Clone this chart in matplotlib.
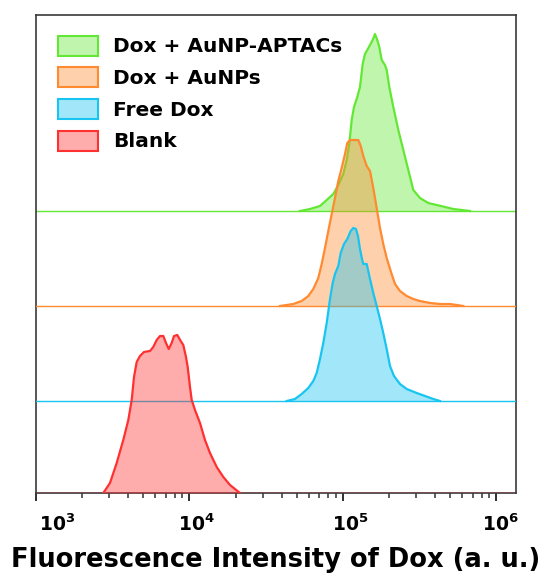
import matplotlib
matplotlib.use('Agg')
import matplotlib.pyplot as plt
from matplotlib.patches import Patch
from matplotlib.colors import to_rgba
from matplotlib.ticker import FixedLocator, FixedFormatter, LogLocator, NullFormatter
from matplotlib.transforms import ScaledTranslation

plt.rcParams['font.family'] = ['DejaVu Sans']
plt.rcParams['font.weight'] = 'bold'
plt.rcParams['mathtext.fontset'] = 'dejavusans'

# flow cytometry histograms (intensity, cell count)
labels = ['Dox + AuNP-APTACs', 'Dox + AuNPs', 'Free Dox', 'Blank']

aptac_x = [52480, 60950, 70830, 78320, 86480, 93200, 100460, 105700, 109900, 113940,
           117950, 123950, 129040, 134380, 139100, 143990, 149940, 156130, 161600, 167300,
           172400, 178700, 187700, 192600, 200300, 212700, 229300, 247100, 266400, 287100,
           317400, 359500, 407800, 461800, 523000, 593300, 672000]
aptac_y = [0, 2, 5, 11, 17, 26, 37, 51, 67, 91,
           104, 114, 124, 147, 157, 161, 166, 171, 177, 171,
           164, 151, 146, 141, 124, 104, 81, 61, 41, 21,
           13, 8, 6, 4, 2, 1, 0]

aunp_x = [38870, 47450, 53810, 59410, 64050, 69050, 72640, 76330, 80220, 84420,
          88700, 93200, 98060, 103040, 106660, 111060, 125840, 130460, 135600, 142700,
          149940, 157540, 165760, 174200, 183000, 192600, 204500, 218200, 235100, 260000,
          287100, 317400, 368800, 428500, 497800, 607600]
aunp_y = [0, 2, 5, 10, 17, 28, 42, 58, 75, 92,
          108, 125, 138, 152, 163, 166, 166, 160, 150, 140,
          135, 118, 98, 78, 62, 48, 35, 22, 15, 10,
          7, 5, 3, 2, 2, 0]

free_x = [42970, 48680, 53810, 59410, 64050, 67410, 70830, 74400, 78320, 82300,
          85700, 88700, 93200, 96600, 101500, 106660, 112260, 116700, 121500, 125200,
          129040, 132980, 135600, 142700, 149940, 157540, 165760, 174200, 183000, 192600,
          202400, 214900, 235100, 260000, 302000, 342100, 387500, 428500]
free_y = [0, 2, 7, 13, 20, 28, 42, 58, 78, 102,
          118, 127, 135, 148, 157, 162, 170, 173, 172, 165,
          152, 142, 137, 137, 122, 108, 95, 82, 68, 52,
          35, 25, 17, 12, 8, 5, 2, 0]

blank_x = [2744, 3034, 3355, 3704, 3994, 4203, 4350, 4529, 4759, 5052,
           5529, 5810, 6113, 6424, 6750, 7030, 7320, 7656, 7925, 8326,
           8763, 9112, 9489, 9734, 10076, 10335, 10860, 11706, 12618, 13600,
           15042, 16610, 18360, 21330]
blank_y = [0, 10, 30, 53, 73, 93, 116, 131, 137, 141,
           142, 146, 153, 157, 157, 150, 144, 150, 157, 158,
           152, 148, 136, 126, 106, 93, 83, 70, 53, 40,
           26, 16, 8, 0]

tick_values = [1e3, 1e4, 1e5, 1e6]
tick_labels = [r'$\mathbf{10^{3}}$', r'$\mathbf{10^{4}}$',
               r'$\mathbf{10^{5}}$', r'$\mathbf{10^{6}}$']

series = [(aptac_x, aptac_y), (aunp_x, aunp_y), (free_x, free_y), (blank_x, blank_y)]
colors = ['#62e834', '#ff8a30', '#18c4f0', '#ff3030']
offsets = [282, 187, 92, 0]

fig = plt.figure(figsize=(5.46, 5.81), dpi=100)
ax = fig.add_axes([36 / 546, 88 / 581, 480 / 546, 478 / 581])

for i, ((x, y), c, off) in enumerate(zip(series, colors, offsets)):
    z = 2 + i
    top = [off + v for v in y]
    ax.axhline(off, color=c, lw=1.0, zorder=z)
    ax.fill_between(x, off, top, color=c, alpha=0.4, lw=0, zorder=z)
    ax.plot(x, top, color=c, lw=1.6, zorder=z)

ax.set_xscale('log')
ax.set_xlim(1e3, 1.34e6)
ax.set_ylim(0, 478)
ax.set_yticks([])

ax.xaxis.set_major_locator(FixedLocator(tick_values))
ax.xaxis.set_major_formatter(FixedFormatter(tick_labels))
ax.xaxis.set_minor_locator(LogLocator(base=10, subs=range(2, 10)))
ax.xaxis.set_minor_formatter(NullFormatter())
ax.tick_params(axis='x', which='major', direction='out', length=5.5, width=1.4,
               color='#303030', pad=9, labelsize=13.5)
ax.tick_params(axis='x', which='minor', direction='out', length=3.6, width=1.1,
               color='#303030')
for sp in ax.spines.values():
    sp.set_color('#3a3a3a')
    sp.set_linewidth(1.2)

# nudge the decade labels to the right
shifts = [21, 7, 7, 4]
for lab, dx in zip(ax.get_xticklabels(), shifts):
    lab.set_transform(lab.get_transform() + ScaledTranslation(dx / 100, 0, fig.dpi_scale_trans))

ax.set_xlabel('Fluorescence Intensity of Dox (a. u.)', fontsize=18.5, fontweight='bold',
              labelpad=9)

handles = [Patch(facecolor=to_rgba(c, 0.4), edgecolor=c, linewidth=1.5) for c in colors]
ax.legend(handles, labels, loc='upper left', bbox_to_anchor=(0.046, 0.957),
          frameon=False, prop={'size': 14.5, 'weight': 'bold'},
          handlelength=2.0, handleheight=1.15, handletextpad=0.75,
          labelspacing=0.54, borderpad=0, borderaxespad=0)

fig.savefig('out.png', dpi=100)
